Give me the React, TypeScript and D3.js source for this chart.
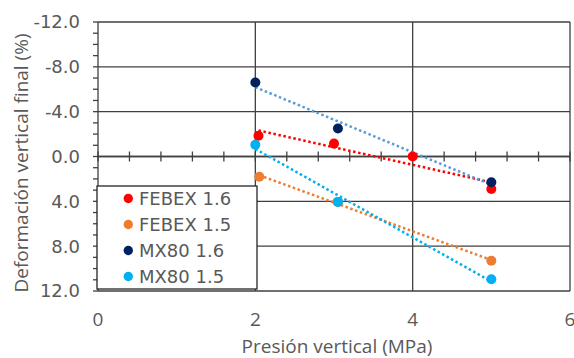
import React from "react";
import * as d3 from "d3";

// Series: vertical pressure (MPa) vs final vertical strain (%)
const febex16X = [2.04, 3.0, 4.0, 5.0];
const febex16Y = [-1.85, -1.15, 0.0, 2.9];
const febex15X = [2.05, 3.05, 5.0];
const febex15Y = [1.8, 4.05, 9.3];
const mx8016X = [2.0, 3.05, 5.0];
const mx8016Y = [-6.6, -2.5, 2.3];
const mx8015X = [2.0, 3.05, 5.0];
const mx8015Y = [-1.05, 4.05, 10.95];

const seriesNames = ["FEBEX 1.6", "FEBEX 1.5", "MX80 1.6", "MX80 1.5"];
const markerColors = ["#ff0000", "#ed7d31", "#002060", "#00b0f0"];
const trendColors = ["#ff0000", "#ed7d31", "#5b9bd5", "#00b0f0"];

const xTicks = [0, 2, 4, 6];
const yTicks = [-12, -8, -4, 0, 4, 8, 12];

const W = 574;
const H = 358;
const left = 98;
const right = 570;
const top = 22;
const bottom = 291;

const TEXT = "#595959";
const GRID = "#404040";

// Least-squares line spanning the series' x range
function fit(xs: number[], ys: number[]) {
  const mx = d3.mean(xs)!;
  const my = d3.mean(ys)!;
  let sxy = 0;
  let sxx = 0;
  xs.forEach((x, i) => {
    sxy += (x - mx) * (ys[i] - my);
    sxx += (x - mx) * (x - mx);
  });
  const slope = sxy / sxx;
  const intercept = my - slope * mx;
  const x0 = d3.min(xs)!;
  const x1 = d3.max(xs)!;
  return [
    [x0, intercept + slope * x0],
    [x1, intercept + slope * x1],
  ] as [number, number][];
}

const fmt = (v: number) => d3.format(".1f")(v).replace("\u2212", "-");

export default function App() {
  const x = d3.scaleLinear().domain([0, 6]).range([left, right]);
  const y = d3.scaleLinear().domain([-12, 12]).range([top, bottom]);
  const line = d3
    .line<[number, number]>()
    .x((d) => x(d[0]))
    .y((d) => y(d[1]));

  const series = [
    { xs: febex16X, ys: febex16Y },
    { xs: febex15X, ys: febex15Y },
    { xs: mx8016X, ys: mx8016Y },
    { xs: mx8015X, ys: mx8015Y },
  ];

  const yMinor = d3.range(-12, 12.001, 1);
  const xMinor = d3.range(0, 15.001, 1).map((i) => i * 0.4);

  const legX = 97;
  const legY = 186;
  const legW = 160;
  const legH = 103;

  return (
    <svg
      width={W}
      height={H}
      style={{ position: "absolute", left: 0, top: 0, background: "#fff" }}
    >
      {/* horizontal gridlines */}
      {yTicks.map((t) => (
        <line
          key={"gy" + t}
          x1={left}
          x2={right}
          y1={y(t)}
          y2={y(t)}
          stroke={GRID}
          strokeWidth={1.3}
        />
      ))}
      {/* vertical gridlines */}
      {xTicks.slice(1).map((t) => (
        <line
          key={"gx" + t}
          x1={x(t)}
          x2={x(t)}
          y1={top}
          y2={bottom}
          stroke={GRID}
          strokeWidth={1.3}
        />
      ))}
      {/* y axis with ticks */}
      <line x1={left} x2={left} y1={top} y2={bottom} stroke={GRID} strokeWidth={1.3} />
      {yMinor.map((t) => (
        <line
          key={"ym" + t}
          x1={left - 5}
          x2={left}
          y1={y(t)}
          y2={y(t)}
          stroke={GRID}
          strokeWidth={1.3}
        />
      ))}
      {/* x axis at zero with crossing ticks */}
      <line x1={left} x2={right} y1={y(0)} y2={y(0)} stroke={GRID} strokeWidth={1.3} />
      {xMinor.map((t) => (
        <line
          key={"xm" + t}
          x1={x(t)}
          x2={x(t)}
          y1={y(0) - 5}
          y2={y(0) + 5}
          stroke={GRID}
          strokeWidth={1.3}
        />
      ))}
      {/* y tick labels */}
      {yTicks.map((t) => (
        <text
          key={"yl" + t}
          x={80}
          y={y(t)}
          dy="0.36em"
          textAnchor="end"
          fontFamily="DejaVu Sans"
          fontSize={18}
          fill={TEXT}
        >
          {fmt(t)}
        </text>
      ))}
      {/* x tick labels */}
      {xTicks.map((t) => (
        <text
          key={"xl" + t}
          x={x(t)}
          y={325.5}
          textAnchor="middle"
          fontFamily="Open Sans"
          fontSize={19}
          fill={TEXT}
        >
          {t}
        </text>
      ))}
      {/* axis titles */}
      <text
        x={337}
        y={352.5}
        textAnchor="middle"
        fontFamily="Open Sans"
        fontSize={19}
        fill={TEXT}
      >
        Presión vertical (MPa)
      </text>
      <text
        transform="translate(27.5,163) rotate(-90)"
        textAnchor="middle"
        fontFamily="Open Sans"
        fontSize={19}
        fill={TEXT}
      >
        Deformación vertical final (%)
      </text>
      {/* linear trendlines */}
      {series.map((s, i) => (
        <path
          key={"tr" + i}
          d={line(fit(s.xs, s.ys)) || ""}
          fill="none"
          stroke={trendColors[i]}
          strokeWidth={2.5}
          strokeDasharray="2.5 2.6"
        />
      ))}
      {/* markers */}
      {series.map((s, i) =>
        s.xs.map((v, j) => (
          <circle
            key={"p" + i + "-" + j}
            cx={x(v)}
            cy={y(s.ys[j])}
            r={5}
            fill={markerColors[i]}
          />
        ))
      )}
      {/* legend */}
      <rect
        x={legX}
        y={legY}
        width={legW}
        height={legH}
        fill="#fff"
        stroke="#262626"
        strokeWidth={1.3}
      />
      {seriesNames.map((name, i) => (
        <g key={"lg" + i} transform={`translate(0,${198.5 + i * 26})`}>
          <circle cx={128.3} cy={0} r={4.7} fill={markerColors[i]} />
          <text
            x={139}
            y={0}
            dy="0.36em"
            fontFamily="DejaVu Sans"
            fontSize={18}
            fill={TEXT}
          >
            {name}
          </text>
        </g>
      ))}
    </svg>
  );
}
